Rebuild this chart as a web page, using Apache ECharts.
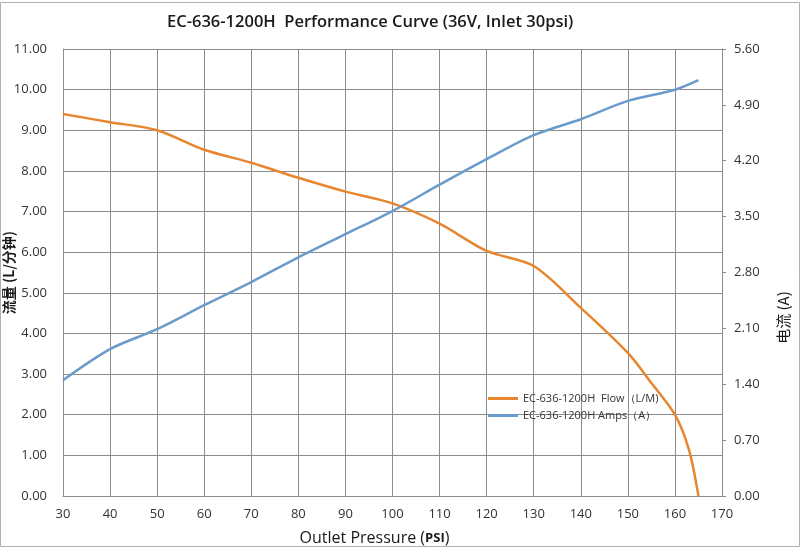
<!DOCTYPE html>
<html>
<head>
<meta charset="utf-8">
<script src="https://cdn.jsdelivr.net/npm/echarts@6/dist/echarts.min.js"></script>
<style>
  html, body { margin: 0; padding: 0; background: #fff; }
  #chart { width: 800px; height: 552px; }
</style>
</head>
<body>
<div id="chart"></div>
<script>
// pressure (psi) for each reading
const flowPressure = [30, 40, 50, 60, 70, 80, 90, 100, 110, 120, 130, 140, 150, 155, 160, 163, 165]
const flowValues = [9.4, 9.2, 9.0, 8.52, 8.2, 7.83, 7.49, 7.2, 6.7, 6.03, 5.66, 4.63, 3.52, 2.78, 2.0, 1.13, 0]

const ampsPressure = [30, 40, 50, 60, 70, 80, 90, 100, 110, 120, 130, 140, 150, 160, 165]
const ampsValues = [1.45, 1.84, 2.09, 2.39, 2.68, 2.99, 3.28, 3.57, 3.9, 4.22, 4.52, 4.72, 4.95, 5.09, 5.21]

const flowName = 'EC-636-1200H  Flow（L/M)'
const ampsName = 'EC-636-1200H Amps（A）'

const toPairs = (xs, ys) => xs.map((x, i) => [x, ys[i]])

const chart = echarts.init(document.getElementById('chart'))

const labelFont = { fontFamily: 'Open Sans', fontSize: 13, color: '#333' }
const gridLine = { show: true, lineStyle: { color: '#8c8c8c', width: 1 } }

chart.setOption({
  backgroundColor: '#fff',
  animation: false,
  title: {
    text: 'EC-636-1200H  Performance Curve (36V, Inlet 30psi)',
    left: 162,
    top: 9,
    textStyle: { fontFamily: 'Open Sans', fontSize: 16.5, fontWeight: 600, color: '#1a1a1a' }
  },
  grid: { left: 63, right: 78, top: 49, bottom: 56, outerBoundsMode: 'none', containLabel: false },
  legend: {
    orient: 'vertical',
    left: 483,
    top: 388,
    itemWidth: 30,
    itemHeight: 3,
    itemGap: 6,
    icon: 'rect',
    textStyle: { fontFamily: 'Open Sans', fontSize: 11, color: '#333' },
    data: [flowName, ampsName]
  },
  xAxis: {
    type: 'value',
    min: 30,
    max: 170,
    interval: 10,
    name: '{a|Outlet Pressure (}{b|PSI}{a|)}',
    nameLocation: 'middle',
    nameGap: 34,
    nameMoveOverlap: false,
    nameTextStyle: {
      padding: [0, 36, 0, 0],
      rich: {
        a: { fontFamily: 'Open Sans', fontSize: 16, color: '#1a1a1a' },
        b: { fontFamily: 'Open Sans', fontSize: 13, fontWeight: 'bold', color: '#1a1a1a' }
      }
    },
    axisLine: { lineStyle: { color: '#8c8c8c' } },
    axisTick: { show: false },
    axisLabel: { ...labelFont, margin: 12 },
    splitLine: gridLine
  },
  yAxis: [
    {
      type: 'value',
      min: 0,
      max: 11,
      interval: 1,
      name: '流量 (L/分钟)',
      nameLocation: 'middle',
      nameRotate: 90,
      nameGap: 47,
      nameMoveOverlap: false,
      nameTextStyle: { fontFamily: 'Noto Sans CJK SC', fontSize: 14, fontWeight: 'bold', color: '#1a1a1a' },
      axisLine: { show: true, lineStyle: { color: '#8c8c8c' } },
      axisTick: { show: false },
      axisLabel: { ...labelFont, margin: 16, formatter: (v) => v.toFixed(2) },
      splitLine: gridLine
    },
    {
      type: 'value',
      min: 0,
      max: 5.6,
      interval: 0.7,
      name: '电流 (A)',
      nameLocation: 'middle',
      nameRotate: 90,
      nameGap: 54,
      nameMoveOverlap: false,
      nameTextStyle: { fontFamily: 'Noto Sans CJK SC', fontSize: 15, color: '#1a1a1a', padding: [0, 90, 0, 0] },
      axisLine: { show: true, lineStyle: { color: '#8c8c8c' } },
      axisTick: { show: true, length: 4, lineStyle: { color: '#8c8c8c' } },
      axisLabel: { ...labelFont, margin: 12, formatter: (v) => v.toFixed(2) },
      splitLine: { show: false }
    }
  ],
  series: [
    {
      name: flowName,
      type: 'line',
      yAxisIndex: 0,
      smooth: 0.3,
      showSymbol: false,
      color: '#e8862f',
      lineStyle: { color: '#e8862f', width: 2.5 },
      data: toPairs(flowPressure, flowValues)
    },
    {
      name: ampsName,
      type: 'line',
      yAxisIndex: 1,
      smooth: 0.3,
      showSymbol: false,
      color: '#6a9bcb',
      lineStyle: { color: '#6a9bcb', width: 2.5 },
      data: toPairs(ampsPressure, ampsValues)
    }
  ],
  graphic: [
    {
      type: 'rect',
      shape: { x: 0.5, y: 2.5, width: 799, height: 544 },
      style: { fill: 'none', stroke: '#b0b0b0', lineWidth: 1 },
      silent: true
    }
  ]
})
</script>
</body>
</html>
